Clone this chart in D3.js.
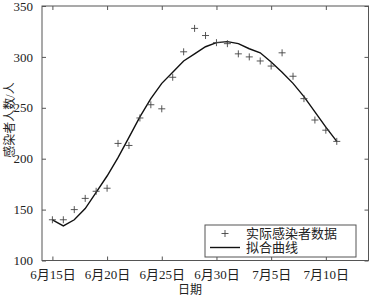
<!DOCTYPE html>
<html>
<head>
<meta charset="utf-8">
<script src="https://cdnjs.cloudflare.com/ajax/libs/d3/7.8.5/d3.min.js"></script>
<style>
  body { margin: 0; background: #fff; }
  text { font-family: "Liberation Serif", "Noto Sans CJK SC", serif; }
</style>
</head>
<body>
<div id="chart"></div>
<script>
// dates, 6/15 .. 7/11
var dates = ["6月15日","6月16日","6月17日","6月18日","6月19日","6月20日","6月21日","6月22日","6月23日",
             "6月24日","6月25日","6月26日","6月27日","6月28日","6月29日","6月30日","7月1日","7月2日",
             "7月3日","7月4日","7月5日","7月6日","7月7日","7月8日","7月9日","7月10日","7月11日"];
var actual = [140,140,150,161,168,171,215,213,240,253,249,280,305,328,321,314,313,303,300,296,291,304,281,259,238,228,217];
var fitted = [140,134,140,151,167,183,201,221,241,259,274,285,296,303,310,314,315,313,308,304,295,285,274,261,246,231,217];
var xTickLabels = ["6月15日","6月20日","6月25日","6月30日","7月5日","7月10日"];
var yTicks = [100,150,200,250,300,350];
var legendLabels = ["实际感染者数据","拟合曲线"];

var w = 369, h = 297;
// plot box (window.top is reserved, so prefixed names)
var pLeft = 42, pRight = 368.5, pTop = 6, pBottom = 260.5;

var svg = d3.select("#chart").append("svg")
    .attr("width", w)
    .attr("height", h);

var x = d3.scaleLinear().domain([-0.95, 28.9]).range([pLeft, pRight]);
var y = d3.scaleLinear().domain([100, 350]).range([pBottom, pTop]);

var axisColor = "#555";

// tick marks pointing inward on all four sides
var xTickIdx = xTickLabels.map(function (d) { return dates.indexOf(d); });

var bottomAxis = d3.axisBottom(x).tickValues(xTickIdx)
    .tickSize(-4).tickPadding(9)
    .tickFormat(function (d) { return dates[d]; });
var topAxis = d3.axisTop(x).tickValues(xTickIdx).tickSize(-4).tickFormat("");
var leftAxis = d3.axisLeft(y).tickValues(yTicks).tickSize(-4).tickPadding(9);
var rightAxis = d3.axisRight(y).tickValues(yTicks).tickSize(-4).tickFormat("");

function styleAxis(g) {
  g.select(".domain").remove();
  g.selectAll("line").attr("stroke", axisColor);
  g.selectAll("text").attr("font-size", "13px").attr("fill", "#222")
   .style("font-family", "'Liberation Serif', 'Noto Sans CJK SC', serif");
}

svg.append("g").attr("transform", "translate(0," + pBottom + ")").call(bottomAxis).call(styleAxis);
svg.append("g").attr("transform", "translate(0," + pTop + ")").call(topAxis).call(styleAxis);
svg.append("g").attr("transform", "translate(" + pLeft + ",0)").call(leftAxis).call(styleAxis);
svg.append("g").attr("transform", "translate(" + pRight + ",0)").call(rightAxis).call(styleAxis);

// frame
svg.append("rect")
   .attr("x", pLeft).attr("y", pTop)
   .attr("width", pRight - pLeft).attr("height", pBottom - pTop)
   .attr("fill", "none").attr("stroke", axisColor).attr("stroke-width", 1);

// fitted curve
var line = d3.line()
    .x(function (d, i) { return x(i); })
    .y(function (d) { return y(d); });

svg.append("path")
   .datum(fitted)
   .attr("d", line)
   .attr("fill", "none")
   .attr("stroke", "#111")
   .attr("stroke-width", 1.4);

// actual data as "+" markers
var m = 3.5;
svg.append("g").selectAll("path")
    .data(actual)
    .enter().append("path")
    .attr("d", function (d, i) {
      var cx = x(i), cy = y(d);
      return "M" + (cx - m) + "," + cy + "H" + (cx + m) + "M" + cx + "," + (cy - m) + "V" + (cy + m);
    })
    .attr("stroke", "#444")
    .attr("stroke-width", 0.9)
    .attr("fill", "none");

// axis titles
svg.append("text")
   .attr("x", 190).attr("y", 294)
   .attr("text-anchor", "middle")
   .attr("font-size", "12px").attr("fill", "#222")
   .text("日期");

svg.append("text")
   .attr("transform", "translate(14,120) rotate(-90)")
   .attr("text-anchor", "middle")
   .attr("font-size", "12px").attr("fill", "#222")
   .text("感染者人数/人");

// legend
var lg = svg.append("g");
lg.append("rect")
  .attr("x", 205).attr("y", 225)
  .attr("width", 151).attr("height", 32)
  .attr("fill", "#fff").attr("stroke", axisColor).attr("stroke-width", 1);

lg.append("path")
  .attr("d", "M" + (225 - m) + ",233.5H" + (225 + m) + "M225," + (233.5 - m) + "V" + (233.5 + m))
  .attr("stroke", "#444").attr("stroke-width", 0.9);
lg.append("line")
  .attr("x1", 210).attr("x2", 240).attr("y1", 247.5).attr("y2", 247.5)
  .attr("stroke", "#111").attr("stroke-width", 1.4);

lg.selectAll("text.lbl")
  .data(legendLabels)
  .enter().append("text")
  .attr("class", "lbl")
  .attr("x", 246)
  .attr("y", function (d, i) { return 238 + i * 14; })
  .attr("font-size", "13px").attr("fill", "#222")
  .text(function (d) { return d; });
</script>
</body>
</html>
